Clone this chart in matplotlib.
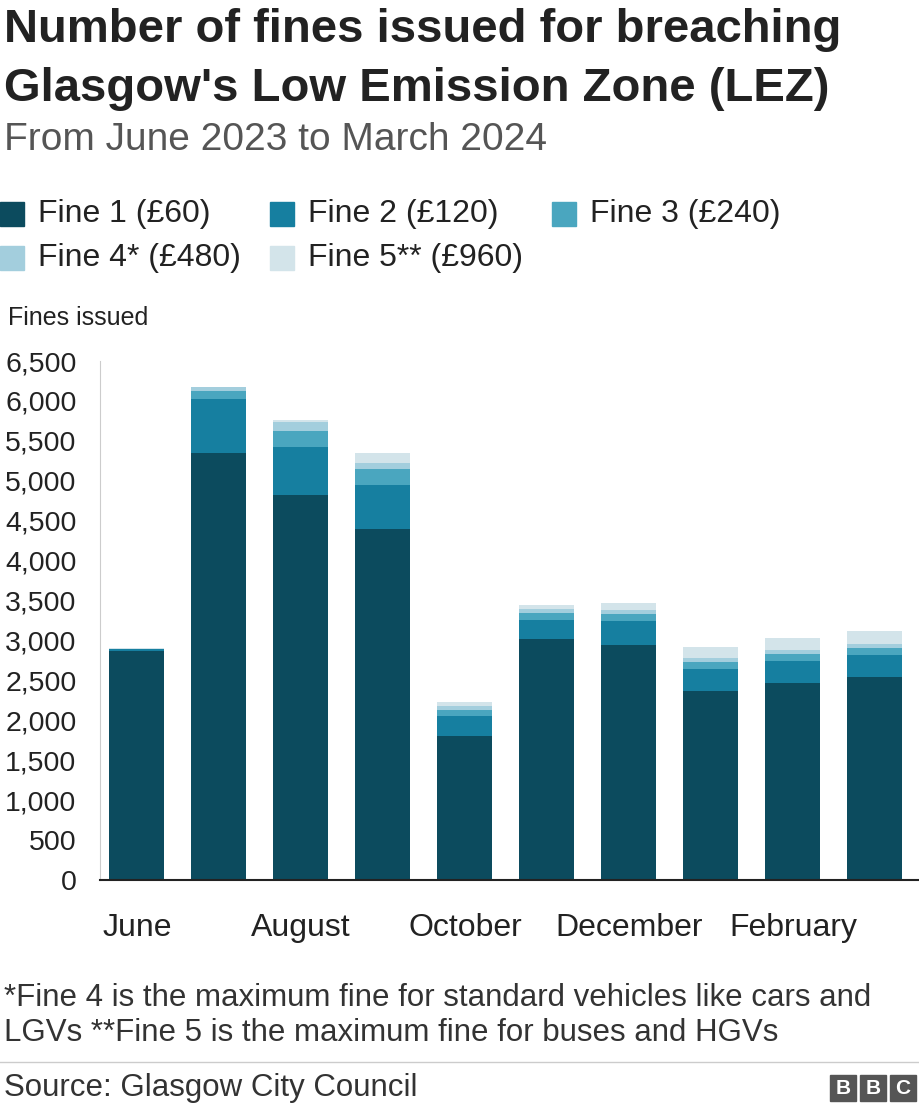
import matplotlib
matplotlib.use("Agg")
import matplotlib.pyplot as plt
from matplotlib.patches import Rectangle

months = ["June","July","August","September","October","November","December","January","February","March"]
fine1 = [2870, 5346, 4820, 4394, 1803, 3017, 2942, 2366, 2466, 2542]
fine2 = [20, 676, 601, 552, 250, 238, 301, 276, 276, 275]
fine3 = [5, 100, 200, 200, 75, 88, 87, 87, 88, 88]
fine4 = [3, 50, 113, 75, 50, 50, 50, 50, 50, 50]
fine5 = [2, 8, 26, 125, 50, 50, 88, 138, 150, 162]
series = [("Fine 1 (£60)", fine1, "#0c4b5e"), ("Fine 2 (£120)", fine2, "#167fa0"),
          ("Fine 3 (£240)", fine3, "#4aa6bf"), ("Fine 4* (£480)", fine4, "#a3cedd"),
          ("Fine 5** (£960)", fine5, "#d3e4ea")]
tick_idx = [0, 2, 4, 6, 8]
tick_labels = ["June", "August", "October", "December", "February"]
yticks = list(range(0, 6501, 500))

plt.rcParams["font.family"] = "Liberation Sans"
fig = plt.figure(figsize=(9.2, 11.16), dpi=100)
W, H = 920, 1116
ax = fig.add_axes([100/W, 1-880/H, 820/W, 519/H])
bottom = [0]*10
for name, vals, c in series:
    ax.bar(range(10), vals, bottom=bottom, width=0.67, color=c, label=name)
    bottom = [b+v for b, v in zip(bottom, vals)]
ax.set_xlim(-0.45, 9.55)
ax.set_ylim(0, 6500)
ax.set_yticks(yticks)
ax.set_yticklabels([f"{v:,}" for v in yticks], fontsize=20.5, color="#222222")
ax.set_xticks(tick_idx)
ax.set_xticklabels(tick_labels, fontsize=23, color="#222222")
ax.tick_params(axis="y", length=0, pad=17)
ax.tick_params(axis="x", length=0, pad=24)
for s in ["top", "right"]:
    ax.spines[s].set_visible(False)
ax.spines["left"].set_color("#cccccc")
ax.spines["bottom"].set_color("#222222")
ax.spines["bottom"].set_linewidth(1.5)

fig.text(4/W, 1-30/H, "Number of fines issued for breaching", fontsize=34, fontweight="bold",
         va="center", color="#222222")
fig.text(4/W, 1-89/H, "Glasgow's Low Emission Zone (LEZ)", fontsize=34, fontweight="bold",
         va="center", color="#222222")
fig.text(4/W, 1-140/H, "From June 2023 to March 2024", fontsize=28, va="center", color="#555555")
leg = [(0, 202), (270, 202), (552, 202), (0, 246), (270, 246)]
for (x, y), (name, _, c) in zip(leg, series):
    fig.patches.append(Rectangle((x/W, 1-(y+24)/H), 24/W, 24/H, transform=fig.transFigure, color=c))
    fig.text((x+38)/W, 1-(y+12)/H, name, fontsize=23, va="center", color="#222222")
fig.text(8/W, 1-318/H, "Fines issued", fontsize=18, va="center", color="#222222")
fig.text(4/W, 1-983/H, "*Fine 4 is the maximum fine for standard vehicles like cars and\nLGVs **Fine 5 is the maximum fine for buses and HGVs",
         fontsize=22.5, va="top", color="#333333", linespacing=1.2)
fig.add_artist(plt.Line2D([0, 1], [1-1062/H]*2, color="#cccccc", lw=1))
fig.text(4/W, 1-1088/H, "Source: Glasgow City Council", fontsize=22.5, va="center", color="#333333")
for i, ch in enumerate("BBC"):
    x = 830 + i*30
    fig.patches.append(Rectangle((x/W, 1-1101/H), 26/W, 26/H, transform=fig.transFigure, color="#555555"))
    fig.text((x+13)/W, 1-1088/H, ch, fontsize=15, fontweight="bold", color="white", ha="center", va="center")
fig.savefig("out.png", dpi=100)
